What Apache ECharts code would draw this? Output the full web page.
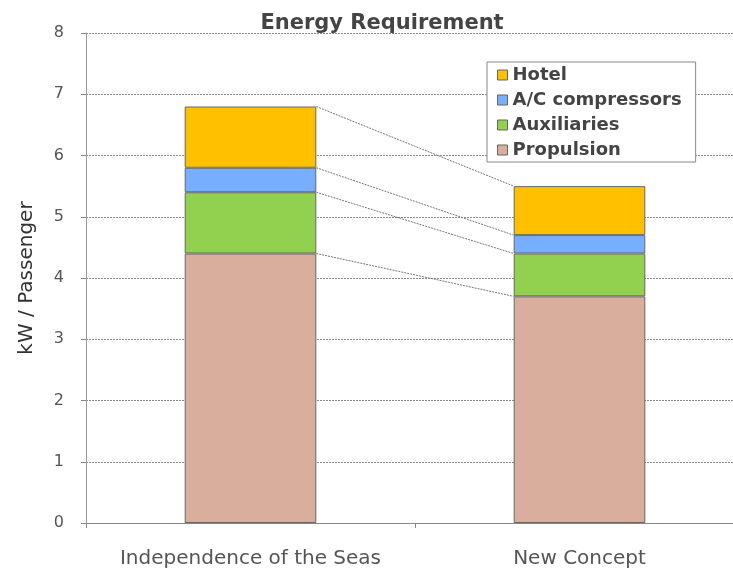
<!DOCTYPE html>
<html>
<head>
<meta charset="utf-8">
<title>Energy Requirement</title>
<script src="https://cdn.jsdelivr.net/npm/echarts@6/dist/echarts.min.js"></script>
<style>
  html, body { margin: 0; padding: 0; background: #fff; }
  #chart { width: 733px; height: 571px; }
</style>
</head>
<body>
<div id="chart"></div>
<script>
// Ship concepts compared
const categories = ['Independence of the Seas', 'New Concept'];

// kW per passenger, by consumer
const propulsion = [4.4, 3.7];
const auxiliaries = [1.0, 0.7];
const acCompressors = [0.4, 0.3];
const hotel = [1.0, 0.8];

const yTicks = [0, 1, 2, 3, 4, 5, 6, 7, 8];

const layers = [
  { name: 'Propulsion', values: propulsion, color: '#D9AE9D' },
  { name: 'Auxiliaries', values: auxiliaries, color: '#92D050' },
  { name: 'A/C compressors', values: acCompressors, color: '#77AEFF' },
  { name: 'Hotel', values: hotel, color: '#FFC000' }
];

const BAR_RATIO = 0.4;
const font = '"DejaVu Sans", Verdana, sans-serif';

// Running top of each stacked segment, per category
const segmentTops = [];
let running = categories.map(() => 0);
layers.forEach(l => {
  running = running.map((r, i) => r + l.values[i]);
  segmentTops.push([0, running[0], running[1]]);
});

const barSeries = layers.map(l => ({
  name: l.name,
  type: 'bar',
  stack: 'total',
  barWidth: (BAR_RATIO * 100) + '%',
  data: l.values,
  itemStyle: { color: l.color, borderColor: '#666', borderWidth: 1 },
  emphasis: { disabled: true }
}));

// Connector lines between matching segment tops of the two bars
const connectorSeries = {
  type: 'custom',
  silent: true,
  z: 1,
  data: segmentTops,
  encode: { x: 0, y: [1, 2] },
  renderItem: function (params, api) {
    const half = api.size([1, 0])[0] * BAR_RATIO / 2;
    const a = api.coord([0, api.value(1)]);
    const b = api.coord([1, api.value(2)]);
    return {
      type: 'line',
      shape: { x1: a[0] + half, y1: a[1], x2: b[0] - half, y2: b[1] },
      style: { stroke: '#777', lineWidth: 1, lineDash: [2, 1] }
    };
  }
};

const chart = echarts.init(document.getElementById('chart'));
chart.setOption({
  animation: false,
  backgroundColor: '#fff',
  title: {
    text: 'Energy Requirement',
    left: 377,
    textAlign: 'center',
    top: 8,
    textStyle: { fontFamily: font, fontSize: 21, fontWeight: 'bold', color: '#444' }
  },
  legend: {
    orient: 'vertical',
    left: 487,
    top: 62,
    data: ['Hotel', 'A/C compressors', 'Auxiliaries', 'Propulsion'],
    icon: 'rect',
    itemWidth: 10,
    itemHeight: 10,
    itemGap: 7,
    padding: [4, 14, 3, 10],
    backgroundColor: '#fff',
    borderColor: '#888',
    borderWidth: 1,
    itemStyle: { borderColor: '#666', borderWidth: 1 },
    textStyle: { fontFamily: font, fontSize: 18, lineHeight: 18, fontWeight: 'bold', color: '#444' }
  },
  grid: { left: 86, width: 658, top: 33, height: 490, outerBoundsMode: 'none', containLabel: false },
  xAxis: {
    type: 'category',
    data: categories,
    axisLine: { show: true, lineStyle: { color: '#888' } },
    axisTick: { show: true, interval: 0, length: 5, lineStyle: { color: '#888' } },
    axisLabel: { interval: 0, hideOverlap: false, margin: 26, fontFamily: font, fontSize: 20, color: '#555' }
  },
  yAxis: {
    type: 'value',
    min: yTicks[0],
    max: yTicks[yTicks.length - 1],
    interval: 1,
    name: 'kW / Passenger',
    nameLocation: 'middle',
    nameGap: 49,
    nameTextStyle: { fontFamily: font, fontSize: 20, color: '#333' },
    axisLine: { show: true, lineStyle: { color: '#999' } },
    axisTick: { show: true, inside: false, length: 5, lineStyle: { color: '#888' } },
    axisLabel: { margin: 22, fontFamily: font, fontSize: 16, color: '#555' },
    splitLine: { show: true, lineStyle: { color: '#888', width: 1, type: [2, 1] } }
  },
  series: [connectorSeries, ...barSeries]
});
</script>
</body>
</html>
